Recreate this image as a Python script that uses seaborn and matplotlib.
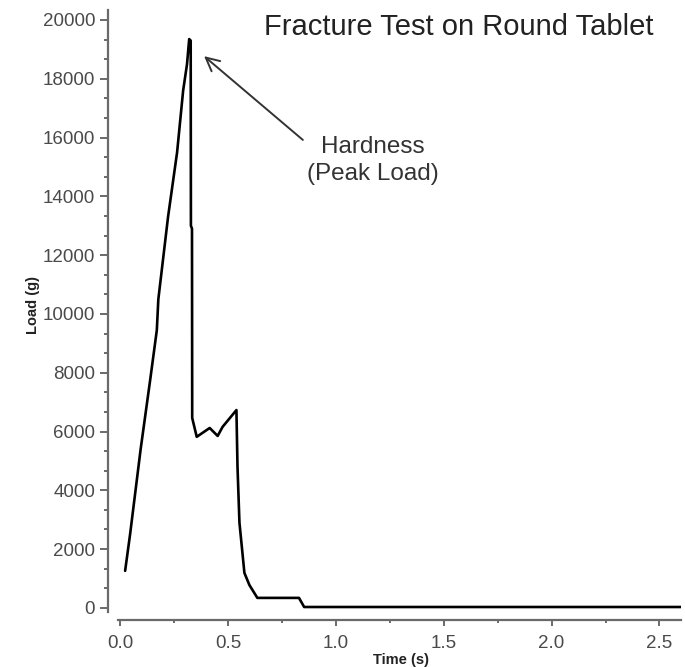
import numpy as np
import pandas as pd
import matplotlib
matplotlib.use("Agg")
import matplotlib.pyplot as plt
from matplotlib.ticker import MultipleLocator
import seaborn as sns

# ---- data ----
time_s = [0.023, 0.046, 0.095, 0.140, 0.170, 0.177, 0.222, 0.264, 0.292, 0.310,
          0.320, 0.327, 0.328, 0.333, 0.334, 0.355, 0.415, 0.452, 0.475,
          0.539, 0.544, 0.553, 0.576, 0.599, 0.636, 0.829, 0.853, 2.600]
load_g = [1260, 2500, 5400, 7800, 9450, 10500, 13300, 15500, 17600, 18500,
          19350, 19300, 13000, 12900, 6460, 5820, 6120, 5850, 6160,
          6730, 4800, 2900, 1190, 780, 340, 340, 30, 30]

title = "Fracture Test on Round Tablet"
annot_lines = ["Hardness", "(Peak Load)"]
x_label = "Time (s)"
y_label = "Load (g)"

df = pd.DataFrame({"Time (s)": time_s, "Load (g)": load_g})

sns.set_theme(style="ticks")
plt.rcParams["font.family"] = ["Liberation Sans", "DejaVu Sans"]

W, H = 685, 667
fig = plt.figure(figsize=(W / 100, H / 100), dpi=100)
ax = fig.add_axes([118 / W, (H - 612) / H, (681 - 118) / W, (612 - 10) / H])

sns.lineplot(data=df, x="Time (s)", y="Load (g)", ax=ax, color="black",
             linewidth=1.9, sort=False, estimator=None)

ax.set_xlim(-0.01, 2.6)
ax.set_ylim(-140, 20340)
ax.set_xlabel("")
ax.set_ylabel("")

ax.xaxis.set_major_locator(MultipleLocator(0.5))
ax.xaxis.set_minor_locator(MultipleLocator(0.25))
ax.yaxis.set_major_locator(MultipleLocator(2000))
ax.yaxis.set_minor_locator(MultipleLocator(2000 / 3))
ax.set_xticks([0, 0.5, 1.0, 1.5, 2.0, 2.5])
ax.set_xticklabels(["0.0", "0.5", "1.0", "1.5", "2.0", "2.5"])

sns.despine(ax=ax)
ax.spines["left"].set_position(("outward", 7))
ax.spines["bottom"].set_position(("outward", 6))
for s in ("left", "bottom"):
    ax.spines[s].set_color("#6a6a6a")
    ax.spines[s].set_linewidth(1.6)

ax.tick_params(axis="y", which="major", length=6, width=1.4, color="#6a6a6a",
               labelsize=13.5, labelcolor="#4a4a4a", pad=3.5)
ax.tick_params(axis="y", which="minor", length=3, width=1.4, color="#6a6a6a")
ax.tick_params(axis="x", which="major", length=4.5, width=1.4, color="#6a6a6a",
               labelsize=13.5, labelcolor="#4a4a4a", pad=6)
ax.tick_params(axis="x", which="minor", length=2.5, width=1.4, color="#6a6a6a")

# titles / labels
fig.text(459 / W, (H - 35) / H, title, ha="center", va="baseline",
         fontsize=21, color="#222222")
fig.text(33 / W, (H - 305) / H, y_label, rotation=90, ha="center", va="center",
         fontsize=10.5, fontweight="bold", color="#222222")
fig.text(401 / W, (H - 653) / H, x_label, ha="center", va="top",
         fontsize=10.5, fontweight="bold", color="#222222")

# annotation
fig.text(373 / W, (H - 153) / H, annot_lines[0], ha="center", va="baseline",
         fontsize=17.5, color="#333333")
fig.text(373 / W, (H - 180) / H, annot_lines[1], ha="center", va="baseline",
         fontsize=17.5, color="#333333")
ax.annotate("", xy=(0.389, 18770), xytext=(0.847, 15920),
            arrowprops=dict(arrowstyle="->,head_length=0.8,head_width=0.4",
                            color="#333333", lw=1.4, shrinkA=0, shrinkB=0))

fig.savefig("out.png", dpi=100)
